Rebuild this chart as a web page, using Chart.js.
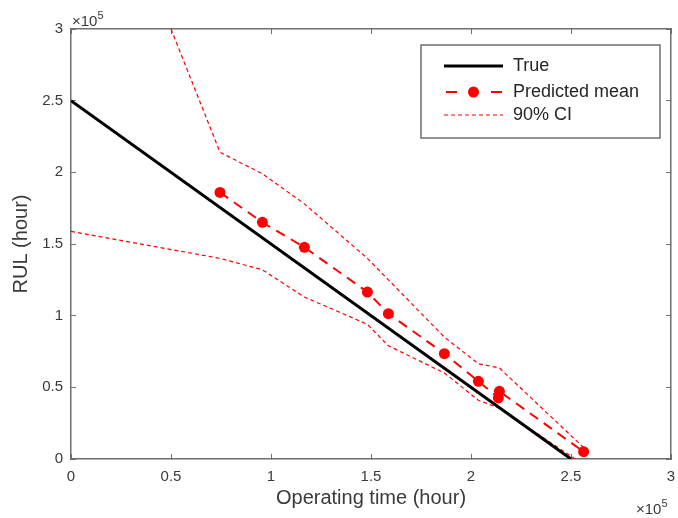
<!DOCTYPE html>
<html>
<head>
<meta charset="utf-8">
<script src="https://cdn.jsdelivr.net/npm/chart.js@4.4.0/dist/chart.umd.min.js"></script>
<style>
  html, body { margin: 0; padding: 0; background: #fff; }
  #wrap { width: 678px; height: 518px; }
</style>
</head>
<body>
<div id="wrap"><canvas id="rul" width="678" height="518"></canvas></div>
<script>
// all values in units of 1e5 hours
const trueTime = [0, 2.5];
const trueRul = [2.5, 0];

const predTime = [0.745, 0.957, 1.167, 1.482, 1.587, 1.867, 2.037, 2.137, 2.142, 2.563];
const predMean = [1.86, 1.651, 1.477, 1.165, 1.014, 0.735, 0.542, 0.426, 0.472, 0.051];

const upperTime = [0.5, 0.745, 0.957, 1.167, 1.482, 1.587, 1.867, 2.037, 2.142, 2.563];
const ciUpper = [3.0, 2.14, 1.99, 1.78, 1.40, 1.25, 0.85, 0.665, 0.635, 0.08];

const lowerTime = [0, 0.745, 0.957, 1.167, 1.482, 1.587, 1.867, 2.037, 2.142, 2.563];
const ciLower = [1.588, 1.40, 1.32, 1.13, 0.94, 0.79, 0.60, 0.41, 0.355, -0.04];

const xTicks = [0, 0.5, 1, 1.5, 2, 2.5, 3];
const yTicks = [0, 0.5, 1, 1.5, 2, 2.5, 3];
const seriesNames = ['True', 'Predicted mean', '90% CI'];

const FONT = "'Liberation Sans', Arial, sans-serif";
const AXIS_GRAY = '#6f6f6f';
const TEXT_GRAY = '#3a3a3a';

const toPoints = (xs, ys) => xs.map((x, i) => ({ x: x, y: ys[i] }));

function setTicks(list) {
  return scale => { scale.ticks = list.map(v => ({ value: v })); };
}

function boxAxis(position, list, withLabels) {
  const horizontal = position === 'top' || position === 'bottom';
  return {
    type: 'linear',
    position: position,
    min: 0,
    max: 3,
    afterBuildTicks: setTicks(list),
    afterFit: scale => {
      if (horizontal) scale.height = withLabels ? 59 : 0;
      else scale.width = withLabels ? 71 : 0;
      // keep the plot box fixed, labels may overhang
      scale.paddingLeft = 0;
      scale.paddingRight = 0;
      scale.paddingTop = 0;
      scale.paddingBottom = 0;
    },
    grid: {
      drawOnChartArea: false,
      drawTicks: true,
      tickLength: -5,
      tickColor: AXIS_GRAY,
      tickWidth: 1
    },
    border: { display: true, color: AXIS_GRAY, width: 1.5 },
    ticks: {
      display: withLabels,
      color: TEXT_GRAY,
      font: { family: FONT, size: 15 },
      padding: horizontal ? 14 : 13,
      maxRotation: 0,
      callback: v => String(v)
    }
  };
}

const xAxis = boxAxis('bottom', xTicks, true);
xAxis.title = {
  display: true, text: 'Operating time (hour)', color: TEXT_GRAY,
  font: { family: FONT, size: 20 }, padding: { top: 0, bottom: 8 }
};
const yAxis = boxAxis('left', yTicks, true);
yAxis.title = {
  display: true, text: 'RUL (hour)', color: TEXT_GRAY,
  font: { family: FONT, size: 20 }, padding: { top: 9, bottom: 0 }
};

const exponentLabels = {
  id: 'exponentLabels',
  afterDraw(chart) {
    const ctx = chart.ctx;
    const area = chart.chartArea;
    ctx.save();
    ctx.fillStyle = TEXT_GRAY;
    ctx.textBaseline = 'alphabetic';
    ctx.textAlign = 'left';
    // y axis multiplier (top-left)
    ctx.font = '15px ' + FONT;
    ctx.fillText('\u00d710', area.left + 1, area.top - 3);
    let w = ctx.measureText('\u00d710').width;
    ctx.font = '11px ' + FONT;
    ctx.fillText('5', area.left + 1 + w, area.top - 10);
    // x axis multiplier (bottom-right)
    ctx.font = '15px ' + FONT;
    ctx.fillText('\u00d710', area.right - 35, area.bottom + 55);
    w = ctx.measureText('\u00d710').width;
    ctx.font = '11px ' + FONT;
    ctx.fillText('5', area.right - 35 + w, area.bottom + 48);
    ctx.restore();
  }
};

const boxLegend = {
  id: 'boxLegend',
  afterDraw(chart) {
    const ctx = chart.ctx;
    const left = 421, top = 45, right = 660, bottom = 138;
    ctx.save();
    ctx.fillStyle = '#fff';
    ctx.fillRect(left, top, right - left, bottom - top);
    ctx.strokeStyle = AXIS_GRAY;
    ctx.lineWidth = 1.5;
    ctx.strokeRect(left, top, right - left, bottom - top);

    const rows = [66, 92, 115];
    const sampleL = 444, sampleR = 503, textX = 513;
    const sets = chart.data.datasets;
    const samples = [sets[0], sets[1], sets[2]];
    samples.forEach((ds, i) => {
      const y = rows[i];
      ctx.strokeStyle = ds.borderColor;
      ctx.lineWidth = ds.borderWidth;
      ctx.setLineDash(ds.borderDash || []);
      ctx.beginPath();
      if (i === 1) {
        ctx.moveTo(sampleL + 2, y); ctx.lineTo(sampleL + 13, y);
        ctx.moveTo(sampleR - 12, y); ctx.lineTo(sampleR - 1, y);
        ctx.setLineDash([]);
      } else {
        ctx.moveTo(sampleL, y); ctx.lineTo(sampleR, y);
      }
      ctx.stroke();
      if (i === 1) {
        ctx.fillStyle = ds.pointBackgroundColor;
        ctx.beginPath();
        ctx.arc((sampleL + sampleR) / 2, y, ds.pointRadius, 0, Math.PI * 2);
        ctx.fill();
      }
      ctx.setLineDash([]);
      ctx.fillStyle = '#262626';
      ctx.font = '18px ' + FONT;
      ctx.textBaseline = 'middle';
      ctx.fillText(seriesNames[i], textX, y);
    });
    ctx.restore();
  }
};

new Chart(document.getElementById('rul').getContext('2d'), {
  type: 'line',
  data: {
    datasets: [
      {
        label: seriesNames[0],
        data: toPoints(trueTime, trueRul),
        borderColor: '#000000',
        borderWidth: 3,
        pointRadius: 0,
        order: 1
      },
      {
        label: seriesNames[1],
        data: toPoints(predTime, predMean),
        borderColor: '#ff0000',
        borderWidth: 2,
        borderDash: [10, 7],
        pointRadius: 5.5,
        pointBackgroundColor: '#ff0000',
        pointBorderWidth: 0,
        order: 0
      },
      {
        label: seriesNames[2],
        data: toPoints(upperTime, ciUpper),
        borderColor: '#ff0000',
        borderWidth: 1.2,
        borderDash: [4, 3],
        pointRadius: 0,
        order: 2
      },
      {
        label: seriesNames[2] + ' lower',
        data: toPoints(lowerTime, ciLower),
        borderColor: '#ff0000',
        borderWidth: 1.2,
        borderDash: [4, 3],
        pointRadius: 0,
        order: 2
      }
    ]
  },
  options: {
    responsive: false,
    animation: false,
    devicePixelRatio: 1,
    layout: { padding: { top: 29, right: 7, left: 0, bottom: 0 } },
    plugins: { legend: { display: false }, tooltip: { enabled: false } },
    scales: {
      x: xAxis,
      y: yAxis,
      x2: boxAxis('top', xTicks, false),
      y2: boxAxis('right', yTicks, false)
    }
  },
  plugins: [exponentLabels, boxLegend]
});
</script>
</body>
</html>
